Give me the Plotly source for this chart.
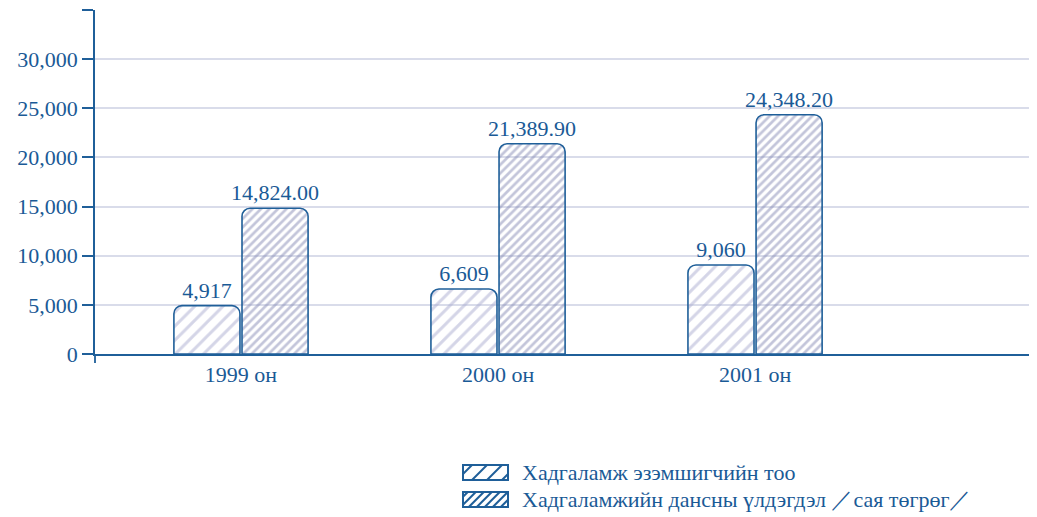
import plotly.graph_objects as go

categories = ["1999 он", "2000 он", "2001 он"]
holders = [4917, 6609, 9060]
balance = [14824.00, 21389.90, 24348.20]
series_names = ["Хадгаламж эзэмшигчийн тоо", "Хадгаламжийн дансны үлдэгдэл ／сая төгрөг／"]
ytick_vals = [0, 5000, 10000, 15000, 20000, 25000, 30000, 35000]
ytick_text = ["0", "5,000", "10,000", "15,000", "20,000", "25,000", "30,000", ""]

BLUE = "#1f5f99"
TEXT = "#1a5a96"
FONT = "Liberation Serif"
OFF = 8  # default page body margin
W, H = 1037 - OFF, 517 - OFF
ML, MR, MT = 95 - OFF, 0, 10 - OFF
MB = H - (354 - OFF)
PW, PH = W - ML - MR, H - MT - MB


def px(x):
    return (x - OFF - ML) / PW


def py(y):
    return (H - MB - (y - OFF)) / PH


xpos = list(range(len(categories)))

fig = go.Figure()
fig.add_trace(go.Bar(
    x=xpos, y=holders, name=series_names[0], showlegend=False,
    marker=dict(color="rgba(0,0,0,0)", line=dict(color=BLUE, width=1.6), cornerradius=8,
                pattern=dict(shape="/", fgcolor="#a9abcf", bgcolor="rgba(0,0,0,0)", size=10, solidity=0.3)),
    texttemplate="%{y:,.0f}", textposition="outside", cliponaxis=False,
    textfont=dict(family=FONT, size=22, color=TEXT),
))
fig.add_trace(go.Bar(
    x=xpos, y=balance, name=series_names[1], showlegend=False,
    marker=dict(color="rgba(0,0,0,0)", line=dict(color=BLUE, width=1.6), cornerradius=8,
                pattern=dict(shape="/", fgcolor="#878cb6", bgcolor="rgba(0,0,0,0)", size=6, solidity=0.45)),
    texttemplate="%{y:,.2f}", textposition="outside", cliponaxis=False,
    textfont=dict(family=FONT, size=22, color=TEXT),
))

fig.update_layout(
    width=W, height=H,
    margin=dict(l=ML, r=MR, t=MT, b=MB, autoexpand=False),
    paper_bgcolor="white", plot_bgcolor="white",
    barmode="group", bargap=0.47, bargroupgap=0.03,
    uniformtext=dict(minsize=22, mode="show"),
    font=dict(family=FONT, color=TEXT, size=22),
    showlegend=False,
    xaxis=dict(
        range=[-0.568, 3.097], tickmode="array", tickvals=xpos, ticktext=categories,
        showgrid=False, zeroline=False, showline=True, linecolor=BLUE, linewidth=2,
        ticks="", tickfont=dict(family=FONT, size=22, color=TEXT), automargin=False,
    ),
    yaxis=dict(
        range=[0, 35000], tickmode="array", tickvals=ytick_vals, ticktext=ytick_text,
        showgrid=True, gridcolor="#d9dcea", gridwidth=1.8, zeroline=False,
        showline=True, linecolor=BLUE, linewidth=1.8,
        ticks="outside", ticklen=11, tickcolor=BLUE, tickwidth=1.8,
        tickfont=dict(family=FONT, size=22, color=TEXT), automargin=False,
    ),
)

# small axis extensions past the origin
fig.add_shape(type="line", xref="paper", yref="paper", x0=px(84), x1=px(95), y0=0, y1=0,
              line=dict(color=BLUE, width=2))
fig.add_shape(type="line", xref="paper", yref="paper", x0=0, x1=0, y0=0, y1=py(363),
              line=dict(color=BLUE, width=1.8))


# custom legend with hatched swatches
def hatch_swatch(x0, x1, yt, yb, step):
    fig.add_shape(type="rect", xref="paper", yref="paper",
                  x0=px(x0), x1=px(x1), y0=py(yb), y1=py(yt),
                  line=dict(color=BLUE, width=2), fillcolor="white")
    k = x0 + yt + step * 0.6
    while k < x1 + yb:
        sx, sy = k - yb, yb
        if sx < x0:
            sx, sy = x0, k - x0
        ex, ey = k - yt, yt
        if ex > x1:
            ex, ey = x1, k - x1
        if sx < ex:
            fig.add_shape(type="line", xref="paper", yref="paper",
                          x0=px(sx), y0=py(sy), x1=px(ex), y1=py(ey),
                          line=dict(color=BLUE, width=2))
        k += step


legend_rows = [(465, 480, 15), (492, 507, 8)]
for name, (yt, yb, step) in zip(series_names, legend_rows):
    hatch_swatch(463, 508, yt, yb, step)
    fig.add_annotation(xref="paper", yref="paper", x=px(520), y=py((yt + yb) / 2),
                       xanchor="left", yanchor="middle", text=name, showarrow=False,
                       font=dict(family=FONT, size=22, color=TEXT))

fig.write_html("out.html")
